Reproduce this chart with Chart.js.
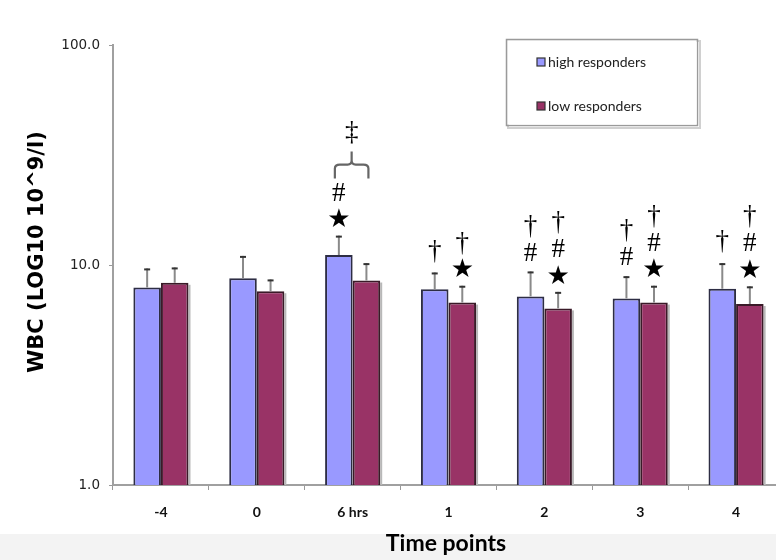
<!DOCTYPE html>
<html>
<head>
<meta charset="utf-8">
<script src="https://cdn.jsdelivr.net/npm/chart.js@4.4.1/dist/chart.umd.min.js"></script>
<style>
  html, body { margin: 0; padding: 0; overflow: hidden; }
  body { width: 776px; height: 560px; background: linear-gradient(#fff 0, #fff 534px, #f3f3f3 534px); }
  #wrap { width: 790px; height: 560px; position: relative; }
</style>
</head>
<body>
<div id="wrap"><canvas id="wbcChart"></canvas></div>
<script>
// WBC by time point, high vs low responders (log scale)
const categories = ["-4", "0", "6 hrs", "1", "2", "3", "4"];
const highMean = [7.9, 8.7, 11.1, 7.75, 7.2, 7.05, 7.8];
const highSD = [1.75, 2.3, 2.5, 1.5, 2.15, 1.85, 2.4];
const lowMean = [8.3, 7.6, 8.5, 6.75, 6.35, 6.75, 6.65];
const lowSD = [1.45, 1.0, 1.7, 1.3, 1.2, 1.3, 1.35];
const yTicks = [1, 10, 100];

// significance marks, listed bottom to top
const highMarks = [[], [], ["★", "#"], ["†"], ["#", "†"], ["#", "†"], ["†"]];
const lowMarks = [[], [], [], ["★", "†"], ["★", "#", "†"], ["★", "#", "†"], ["★", "#", "†"]];
const braceGroup = 2;
const braceMark = "‡";

const sds = [highSD, lowSD];
const marks = [highMarks, lowMarks];

const errorBars = {
    id: "errorBars",
    afterDatasetsDraw(chart) {
        const { ctx } = chart;
        const y = chart.scales.y;
        chart.data.datasets.forEach((ds, i) => {
            const meta = chart.getDatasetMeta(i);
            meta.data.forEach((bar, j) => {
                const top = y.getPixelForValue(ds.data[j] + sds[i][j]);
                ctx.save();
                ctx.strokeStyle = "#8a8a8a";
                ctx.lineWidth = 2;
                ctx.beginPath();
                ctx.moveTo(bar.x, bar.y);
                ctx.lineTo(bar.x, top);
                ctx.stroke();
                ctx.strokeStyle = "#333";
                ctx.beginPath();
                ctx.moveTo(bar.x - 3, top + 1);
                ctx.lineTo(bar.x + 3, top + 1);
                ctx.stroke();
                ctx.restore();
            });
        });
    }
};

// soft gray shadow to the right of each group, like the source figure
const barShadow = {
    id: "barShadow",
    beforeDatasetsDraw(chart) {
        const { ctx } = chart;
        const meta = chart.getDatasetMeta(1);
        ctx.save();
        ctx.fillStyle = "#b8b8b8";
        meta.data.forEach(bar => {
            const right = bar.x + bar.width / 2;
            ctx.fillRect(right, bar.y + 2, 2, bar.base - bar.y - 2);
        });
        ctx.restore();
    }
};

const firstOffset = { "★": 15, "#": 18, "†": 21 };

const sigMarks = {
    id: "sigMarks",
    afterDatasetsDraw(chart) {
        const { ctx } = chart;
        const y = chart.scales.y;
        const tops = {};
        chart.data.datasets.forEach((ds, i) => {
            const meta = chart.getDatasetMeta(i);
            meta.data.forEach((bar, j) => {
                const cap = y.getPixelForValue(ds.data[j] + sds[i][j]);
                let cy = cap;
                marks[i][j].forEach((m, k) => {
                    cy = k === 0 ? cap - firstOffset[m] : cy - 27;
                    ctx.save();
                    ctx.fillStyle = "#000";
                    ctx.textAlign = "center";
                    ctx.textBaseline = "middle";
                    ctx.font = m === "★" ? "26px 'DejaVu Sans'" : "27px 'Liberation Serif'";
                    ctx.fillText(m, bar.x, cy);
                    ctx.restore();
                });
                tops[i + "_" + j] = { x: bar.x, y: cy };
            });
        });
        // brace over the 6 hrs group
        const a = chart.getDatasetMeta(0).data[braceGroup];
        const b = chart.getDatasetMeta(1).data[braceGroup];
        const x1 = a.x - 4, x2 = b.x + 2, xm = (x1 + x2) / 2;
        const yb = tops["0_" + braceGroup].y - 15;
        ctx.save();
        ctx.strokeStyle = "#666";
        ctx.lineWidth = 2.2;
        ctx.beginPath();
        ctx.moveTo(x1, yb);
        ctx.lineTo(x1, yb - 10);
        ctx.quadraticCurveTo(x1, yb - 14, x1 + 5, yb - 14);
        ctx.lineTo(xm - 4, yb - 14);
        ctx.quadraticCurveTo(xm, yb - 14, xm, yb - 18);
        ctx.lineTo(xm, yb - 27);
        ctx.moveTo(xm, yb - 18);
        ctx.quadraticCurveTo(xm, yb - 14, xm + 4, yb - 14);
        ctx.lineTo(x2 - 5, yb - 14);
        ctx.quadraticCurveTo(x2, yb - 14, x2, yb - 10);
        ctx.lineTo(x2, yb);
        ctx.stroke();
        ctx.fillStyle = "#000";
        ctx.textAlign = "center";
        ctx.textBaseline = "middle";
        ctx.font = "27px 'Liberation Serif'";
        ctx.fillText(braceMark, xm, yb - 46);
        ctx.restore();
    }
};

const extras = {
    id: "extras",
    afterDraw(chart) {
        const { ctx } = chart;
        ctx.save();
        // y title
        ctx.translate(38, 252);
        ctx.rotate(-Math.PI / 2);
        ctx.fillStyle = "#000";
        ctx.textAlign = "center";
        ctx.textBaseline = "middle";
        ctx.font = "bold 21px 'DejaVu Sans'";
        ctx.fillText("WBC (LOG10 10^9/l)", 0, 0);
        ctx.restore();
        // x title
        ctx.save();
        ctx.fillStyle = "#000";
        ctx.textAlign = "center";
        ctx.textBaseline = "middle";
        ctx.font = "bold 23px Lato";
        ctx.fillText("Time points", 446, 544);
        ctx.restore();
        // legend box
        ctx.save();
        ctx.strokeStyle = "#d0d0d0";
        ctx.lineWidth = 2;
        ctx.strokeRect(508, 41, 192, 87);
        ctx.strokeStyle = "#9a9a9a";
        ctx.lineWidth = 1.5;
        ctx.strokeRect(506.5, 39.5, 191, 86);
        ctx.fillStyle = "#fff";
        ctx.fillRect(507.5, 40.5, 189, 84);
        ctx.font = "14px Lato";
        ctx.textBaseline = "middle";
        chart.data.datasets.forEach((ds, i) => {
            const ly = 62 + i * 44;
            ctx.fillStyle = ds.backgroundColor;
            ctx.fillRect(537, ly - 4, 8, 8);
            ctx.strokeStyle = "#333";
            ctx.lineWidth = 1.2;
            ctx.strokeRect(537, ly - 4, 8, 8);
            ctx.fillStyle = "#222";
            ctx.fillText(ds.label, 548, ly);
        });
        ctx.restore();
    }
};

new Chart(document.getElementById("wbcChart"), {
    type: "bar",
    data: {
        labels: categories,
        datasets: [
            {
                label: "high responders",
                data: highMean,
                backgroundColor: "#9999FF",
                borderColor: "#2d2d44",
                borderWidth: 2,
            },
            {
                label: "low responders",
                data: lowMean,
                backgroundColor: "#993366",
                borderColor: "#3a1a28",
                borderWidth: 2,
            },
        ],
    },
    options: {
        responsive: true,
        maintainAspectRatio: false,
        animation: false,
        layout: { padding: { top: 45, right: 6, left: 0, bottom: 0 } },
        categoryPercentage: 0.575,
        barPercentage: 1,
        plugins: { legend: { display: false }, tooltip: { enabled: false } },
        scales: {
            x: {
                grid: { drawOnChartArea: false, tickLength: 5, color: "#999", lineWidth: 1 },
                border: { color: "#a0a0a0", width: 2 },
                ticks: { color: "#111", font: { family: "Lato", size: 14, weight: "bold" }, padding: 14, maxRotation: 0 },
                afterFit(scale) { scale.height = 75; },
            },
            y: {
                type: "logarithmic",
                min: 1,
                max: 100,
                afterBuildTicks(scale) { scale.ticks = yTicks.map(v => ({ value: v })); },
                grid: { drawOnChartArea: false, tickLength: 4, color: "#999" },
                border: { color: "#a0a0a0", width: 2 },
                ticks: {
                    color: "#222",
                    font: { family: "DejaVu Sans", size: 13.5 },
                    padding: 9,
                    callback: v => Number(v).toFixed(1),
                },
                afterFit(scale) { scale.width = 113; },
            },
        },
    },
    plugins: [barShadow, errorBars, sigMarks, extras],
});
</script>
</body>
</html>
